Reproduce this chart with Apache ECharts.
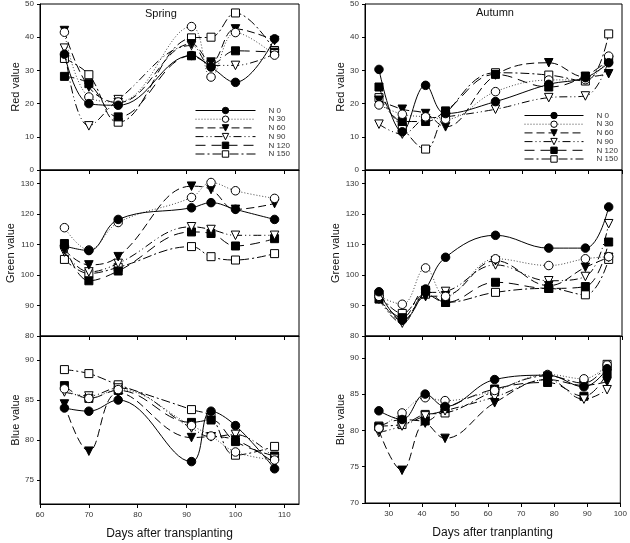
<!DOCTYPE html>
<html>
<head>
<meta charset="utf-8">
<script src="https://cdn.jsdelivr.net/npm/echarts@6/dist/echarts.min.js"></script>
<style>
  html, body { margin: 0; padding: 0; background: #fff; }
  #chart { width: 630px; height: 543px; }
</style>
</head>
<body>
<div id="chart"></div>
<script>
// días de muestreo
const springDays = [65, 70, 76, 91, 95, 100, 108];
const autumnDays = [27, 34, 41, 47, 62, 78, 89, 96];

const seriesNames = ['N 0', 'N 30', 'N 60', 'N 90', 'N 120', 'N 150'];

// valores por panel, una fila por tratamiento (N 0 ... N 150)
const springRed = [
  [34.9, 20.0, 19.5, 34.5, 31.0, 26.4, 39.5],
  [41.5, 22.0, 20.5, 43.2, 28.0, 41.4, 34.6],
  [42.0, 25.0, 20.3, 38.0, 32.5, 42.5, 39.0],
  [36.7, 13.3, 21.2, 37.5, 31.5, 31.5, 35.0],
  [28.2, 26.0, 16.0, 34.4, 32.0, 35.9, 35.5],
  [33.6, 28.7, 14.4, 39.8, 40.0, 47.3, 36.0]
];
const springGreen = [
  [109.5, 108.0, 118.2, 122.0, 123.7, 121.5, 118.2],
  [115.5, 108.2, 117.2, 125.4, 130.3, 127.6, 125.1],
  [108.2, 103.3, 106.0, 129.1, 128.0, 121.5, 123.4],
  [107.5, 101.0, 103.8, 115.8, 114.9, 113.0, 113.0],
  [110.3, 98.1, 101.3, 114.1, 113.6, 109.5, 111.9],
  [105.1, 100.5, 102.5, 109.3, 106.0, 104.9, 107.0]
];
const springBlue = [
  [84.0, 83.6, 85.0, 77.3, 83.6, 81.8, 76.4],
  [86.4, 85.2, 86.3, 81.8, 80.5, 78.5, 77.5],
  [84.5, 78.6, 85.9, 80.3, 80.4, 80.0, 77.1],
  [86.0, 85.5, 86.5, 81.5, 80.4, 80.7, 77.7],
  [86.8, 85.2, 86.2, 82.2, 82.5, 79.8, 78.0],
  [88.8, 88.3, 86.9, 83.8, 82.9, 78.1, 79.2]
];
const autumnRed = [
  [30.3, 11.5, 25.5, 17.0, 20.6, 25.8, 27.8, 32.3],
  [19.6, 16.8, 16.0, 15.3, 23.6, 27.1, 27.2, 34.3],
  [21.0, 18.3, 17.0, 13.0, 28.6, 32.3, 28.0, 29.0],
  [13.8, 10.8, 15.5, 16.0, 18.3, 21.8, 22.3, 33.0],
  [25.0, 14.6, 14.6, 17.8, 28.8, 25.0, 28.3, 33.3],
  [21.8, 12.8, 6.3, 16.8, 29.3, 28.6, 26.8, 41.0]
];
const autumnGreen = [
  [94.5, 85.2, 95.4, 105.8, 113.0, 108.8, 108.8, 122.3],
  [93.0, 90.4, 102.3, 93.0, 105.3, 103.1, 105.3, 106.0],
  [92.5, 85.0, 92.9, 93.2, 104.7, 96.5, 102.5, 105.8],
  [92.0, 84.2, 94.0, 94.6, 103.3, 98.1, 99.5, 116.8],
  [92.1, 86.0, 95.0, 91.0, 97.6, 95.6, 96.2, 110.8],
  [93.7, 87.4, 93.7, 91.0, 94.3, 95.6, 93.5, 105.1]
];
const autumnBlue = [
  [82.7, 81.5, 85.0, 83.3, 87.0, 87.6, 86.0, 88.5],
  [80.3, 82.4, 84.5, 84.1, 85.5, 87.7, 87.1, 89.0],
  [80.0, 74.5, 81.0, 78.9, 83.8, 87.0, 86.2, 86.7],
  [79.7, 80.6, 82.0, 82.7, 84.6, 87.0, 84.3, 85.6],
  [80.5, 81.5, 81.3, 83.0, 85.7, 86.6, 84.7, 87.9],
  [80.6, 80.8, 82.2, 82.4, 85.4, 87.5, 86.5, 89.1]
];

// marcas de los ejes
const springTicks = [60, 70, 80, 90, 100, 110];
const autumnTicks = [30, 40, 50, 60, 70, 80, 90, 100];
const redTicks = [0, 10, 20, 30, 40, 50];
const greenTicks = [80, 90, 100, 110, 120, 130];
const blueSpringTicks = [75, 80, 85, 90];
const blueAutumnTicks = [70, 75, 80, 85, 90];

const FONT = '"Liberation Sans", Arial, sans-serif';

// estilo de cada tratamiento (relleno blanco = símbolo hueco)
const estilos = [
  { symbol: 'circle', rotate: 0, fill: '#000', dash: 'solid', color: '#000' },
  { symbol: 'circle', rotate: 0, fill: '#fff', dash: [1, 2], color: '#444' },
  { symbol: 'triangle', rotate: 180, fill: '#000', dash: [8, 4], color: '#000' },
  { symbol: 'triangle', rotate: 180, fill: '#fff', dash: [8, 3, 1, 3, 1, 3], color: '#000' },
  { symbol: 'rect', rotate: 0, fill: '#000', dash: [10, 6], color: '#000' },
  { symbol: 'rect', rotate: 0, fill: '#fff', dash: [9, 3, 2, 3], color: '#000' }
];

// paneles: [left, top, width, height]
const paneles = [
  { box: [40, 3, 259, 167], days: springDays, data: springRed, xTicks: springTicks, xMin: 60, xMax: 113,
    yMin: 0, yMax: 50, yTicks: redTicks, yName: 'Red value', xLabels: false },
  { box: [40, 170, 259, 166], days: springDays, data: springGreen, xTicks: springTicks, xMin: 60, xMax: 113,
    yMin: 80, yMax: 134.4, yTicks: greenTicks, yName: 'Green value', xLabels: false },
  { box: [40, 336, 259, 168], days: springDays, data: springBlue, xTicks: springTicks, xMin: 60, xMax: 113,
    yMin: 72, yMax: 93, yTicks: blueSpringTicks, yName: 'Blue value', xLabels: true,
    xName: 'Days after transplanting' },
  { box: [365, 3, 257, 167], days: autumnDays, data: autumnRed, xTicks: autumnTicks, xMin: 22.8, xMax: 100,
    yMin: 0, yMax: 50, yTicks: redTicks, yName: 'Red value', xLabels: false },
  { box: [365, 170, 257, 166], days: autumnDays, data: autumnGreen, xTicks: autumnTicks, xMin: 22.8, xMax: 100,
    yMin: 80, yMax: 134.4, yTicks: greenTicks, yName: 'Green value', xLabels: false },
  { box: [365, 336, 257, 167], days: autumnDays, data: autumnBlue, xTicks: autumnTicks, xMin: 22.8, xMax: 100,
    yMin: 70, yMax: 93, yTicks: blueAutumnTicks, yName: 'Blue value', xLabels: true,
    xName: 'Days after tranplanting' }
];

const grids = [];
const xAxes = [];
const yAxes = [];
const series = [];

paneles.forEach((p, i) => {
  grids.push({
    left: p.box[0], top: p.box[1], width: p.box[2], height: p.box[3],
    show: true, borderColor: '#000', borderWidth: 1, backgroundColor: 'transparent'
  });
  xAxes.push({
    type: 'value', gridIndex: i, min: p.xMin, max: p.xMax,
    splitLine: { show: false },
    axisLine: { show: true, onZero: false, lineStyle: { color: '#000', width: 1 } },
    axisTick: { show: true, length: 4, customValues: p.xTicks, lineStyle: { color: '#000' } },
    axisLabel: {
      show: p.xLabels, customValues: p.xTicks, fontSize: 8, color: '#333',
      fontFamily: FONT, margin: 7
    },
    name: p.xName || '', nameLocation: 'middle', nameGap: 24,
    nameTextStyle: { fontSize: 12, color: '#111', fontFamily: FONT }
  });
  yAxes.push({
    type: 'value', gridIndex: i, min: p.yMin, max: p.yMax,
    splitLine: { show: false },
    axisLine: { show: true, onZero: false, lineStyle: { color: '#000', width: 1 } },
    axisTick: { show: true, length: 3, customValues: p.yTicks, lineStyle: { color: '#000' } },
    axisLabel: { customValues: p.yTicks, fontSize: 8, color: '#333', fontFamily: FONT, margin: 6 },
    name: p.yName, nameLocation: 'middle', nameGap: 19,
    nameTextStyle: { fontSize: 11, color: '#111', fontFamily: FONT }
  });
  p.data.forEach((valores, k) => {
    const e = estilos[k];
    series.push({
      name: seriesNames[k],
      type: 'line',
      xAxisIndex: i,
      yAxisIndex: i,
      data: p.days.map((d, j) => [d, valores[j]]),
      smooth: 0.4,
      symbol: e.symbol,
      symbolRotate: e.rotate,
      symbolSize: e.symbol === 'rect' ? 8 : 8.5,
      showAllSymbol: true,
      lineStyle: { color: e.color, width: 1, type: e.dash },
      itemStyle: { color: e.fill, borderColor: '#000', borderWidth: 1 },
      emphasis: { disabled: true },
      animation: false,
      z: 10 - k
    });
  });
});

function leyenda(left, top, width) {
  return {
    left: left, top: top, orient: 'vertical', padding: 0,
    itemWidth: width, itemHeight: 8, itemGap: 0.7,
    data: seriesNames,
    itemStyle: { borderWidth: 1 },
    lineStyle: { width: 1 },
    textStyle: { fontSize: 8, color: '#333', fontFamily: FONT, padding: [0, 0, 0, 8] },
    selectedMode: false
  };
}

const chart = echarts.init(document.getElementById('chart'), null, { renderer: 'canvas' });

chart.setOption({
  backgroundColor: '#fff',
  animation: false,
  title: [
    { text: 'Spring', left: 140, top: 3, textStyle: { fontSize: 11, fontWeight: 'normal', color: '#111', fontFamily: FONT } },
    { text: 'Autumn', left: 471, top: 2, textStyle: { fontSize: 11, fontWeight: 'normal', color: '#111', fontFamily: FONT } }
  ],
  legend: [leyenda(195, 106.5, 60), leyenda(524, 111.5, 59)],
  grid: grids,
  xAxis: xAxes,
  yAxis: yAxes,
  series: series
});

window.addEventListener('resize', function() {
  chart.resize();
});
</script>
</body>
</html>
